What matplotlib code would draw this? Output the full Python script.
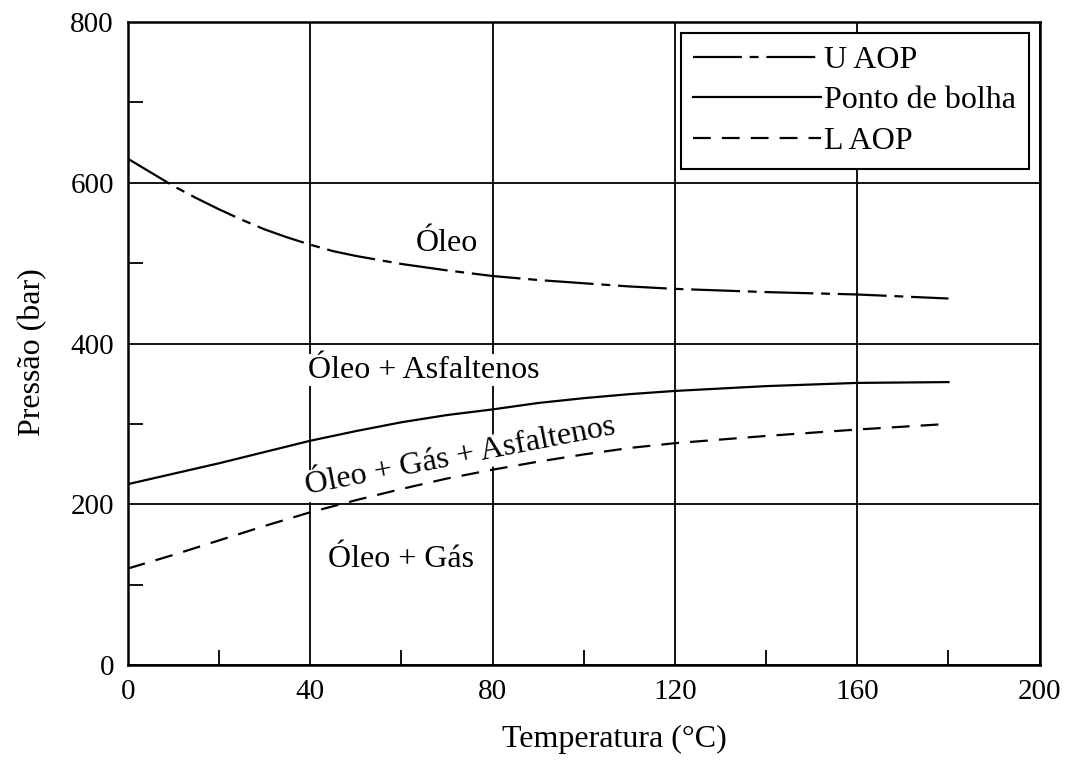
import matplotlib
matplotlib.use('Agg')
import matplotlib.pyplot as plt
from matplotlib.ticker import MultipleLocator

plt.rcParams['font.family'] = ['Liberation Serif', 'DejaVu Serif']

## data
u_temp = [0, 5, 10, 15, 20, 25, 30, 35, 40, 45, 50, 55, 60, 70, 80, 90, 100, 110, 120, 140, 160, 180]
u_aop = [630, 613, 596, 581, 567, 554, 542, 532, 523, 515, 509, 504, 499, 491, 484, 479, 475, 471, 468, 464, 461, 456]

temp = [0, 10, 20, 30, 40, 50, 60, 70, 80, 90, 100, 110, 120, 140, 160, 180]
bubble = [225, 238, 251, 265, 279, 291, 302, 311, 318, 326, 332, 337, 341, 347, 351, 352]
l_aop = [120, 137, 155, 173, 190, 205, 219, 232, 243, 253, 262, 270, 276, 285, 293, 300]

series_labels = ["U AOP", "Ponto de bolha", "L AOP"]

# region labels: (text, T, P, rotation)
regions = [
    ("Óleo", 70, 525, 0),
    ("Óleo + Asfaltenos", 65, 367, 0),
    ("Óleo + Gás + Asfaltenos", 73, 259, 11),
    ("Óleo + Gás", 60, 131, 0),
]

fig = plt.figure(figsize=(10.74, 7.6), dpi=100)
ax = fig.add_axes([0.119, 0.125, 0.849, 0.846])

ax.plot(u_temp, u_aop, color='black', lw=1.6, dashes=(22, 3.5, 4, 3.5), label=series_labels[0], zorder=3)
ax.plot(temp, bubble, color='black', lw=1.6, label=series_labels[1], zorder=3)
ax.plot(temp, l_aop, color='black', lw=1.6, dashes=(8, 5), label=series_labels[2], zorder=3)

for txt, t, p, rot in regions:
    ax.text(t, p, txt, fontsize=23, ha='center', va='center', rotation=rot,
            rotation_mode='anchor', zorder=4,
            bbox=dict(facecolor='white', edgecolor='none', pad=1))

ax.set_xlim(0, 200)
ax.set_ylim(0, 800)
ax.xaxis.set_major_locator(MultipleLocator(40))
ax.xaxis.set_minor_locator(MultipleLocator(20))
ax.yaxis.set_major_locator(MultipleLocator(200))
ax.yaxis.set_minor_locator(MultipleLocator(100))
ax.grid(which='major', color='black', lw=1.3, zorder=1)
ax.set_axisbelow(True)
ax.tick_params(which='both', direction='in', labelsize=21, width=1.3, pad=10)
ax.tick_params(which='minor', length=11)
ax.tick_params(which='major', length=0)
for s in ax.spines.values():
    s.set_linewidth(1.8)

ax.set_xlabel("Temperatura (°C)", fontsize=23)
ax.set_ylabel("Pressão (bar)", fontsize=23)
ax.xaxis.set_label_coords(0.534, -0.093)
ax.yaxis.set_label_coords(-0.088, 0.487)

leg = ax.legend(loc='upper right', fontsize=23, handlelength=4.0, handletextpad=0.1,
                borderaxespad=0.33, labelspacing=0.35, fancybox=False, framealpha=1,
                edgecolor='black', borderpad=0.4)
leg.get_frame().set_linewidth(1.5)

fig.savefig("out.png", dpi=100)
